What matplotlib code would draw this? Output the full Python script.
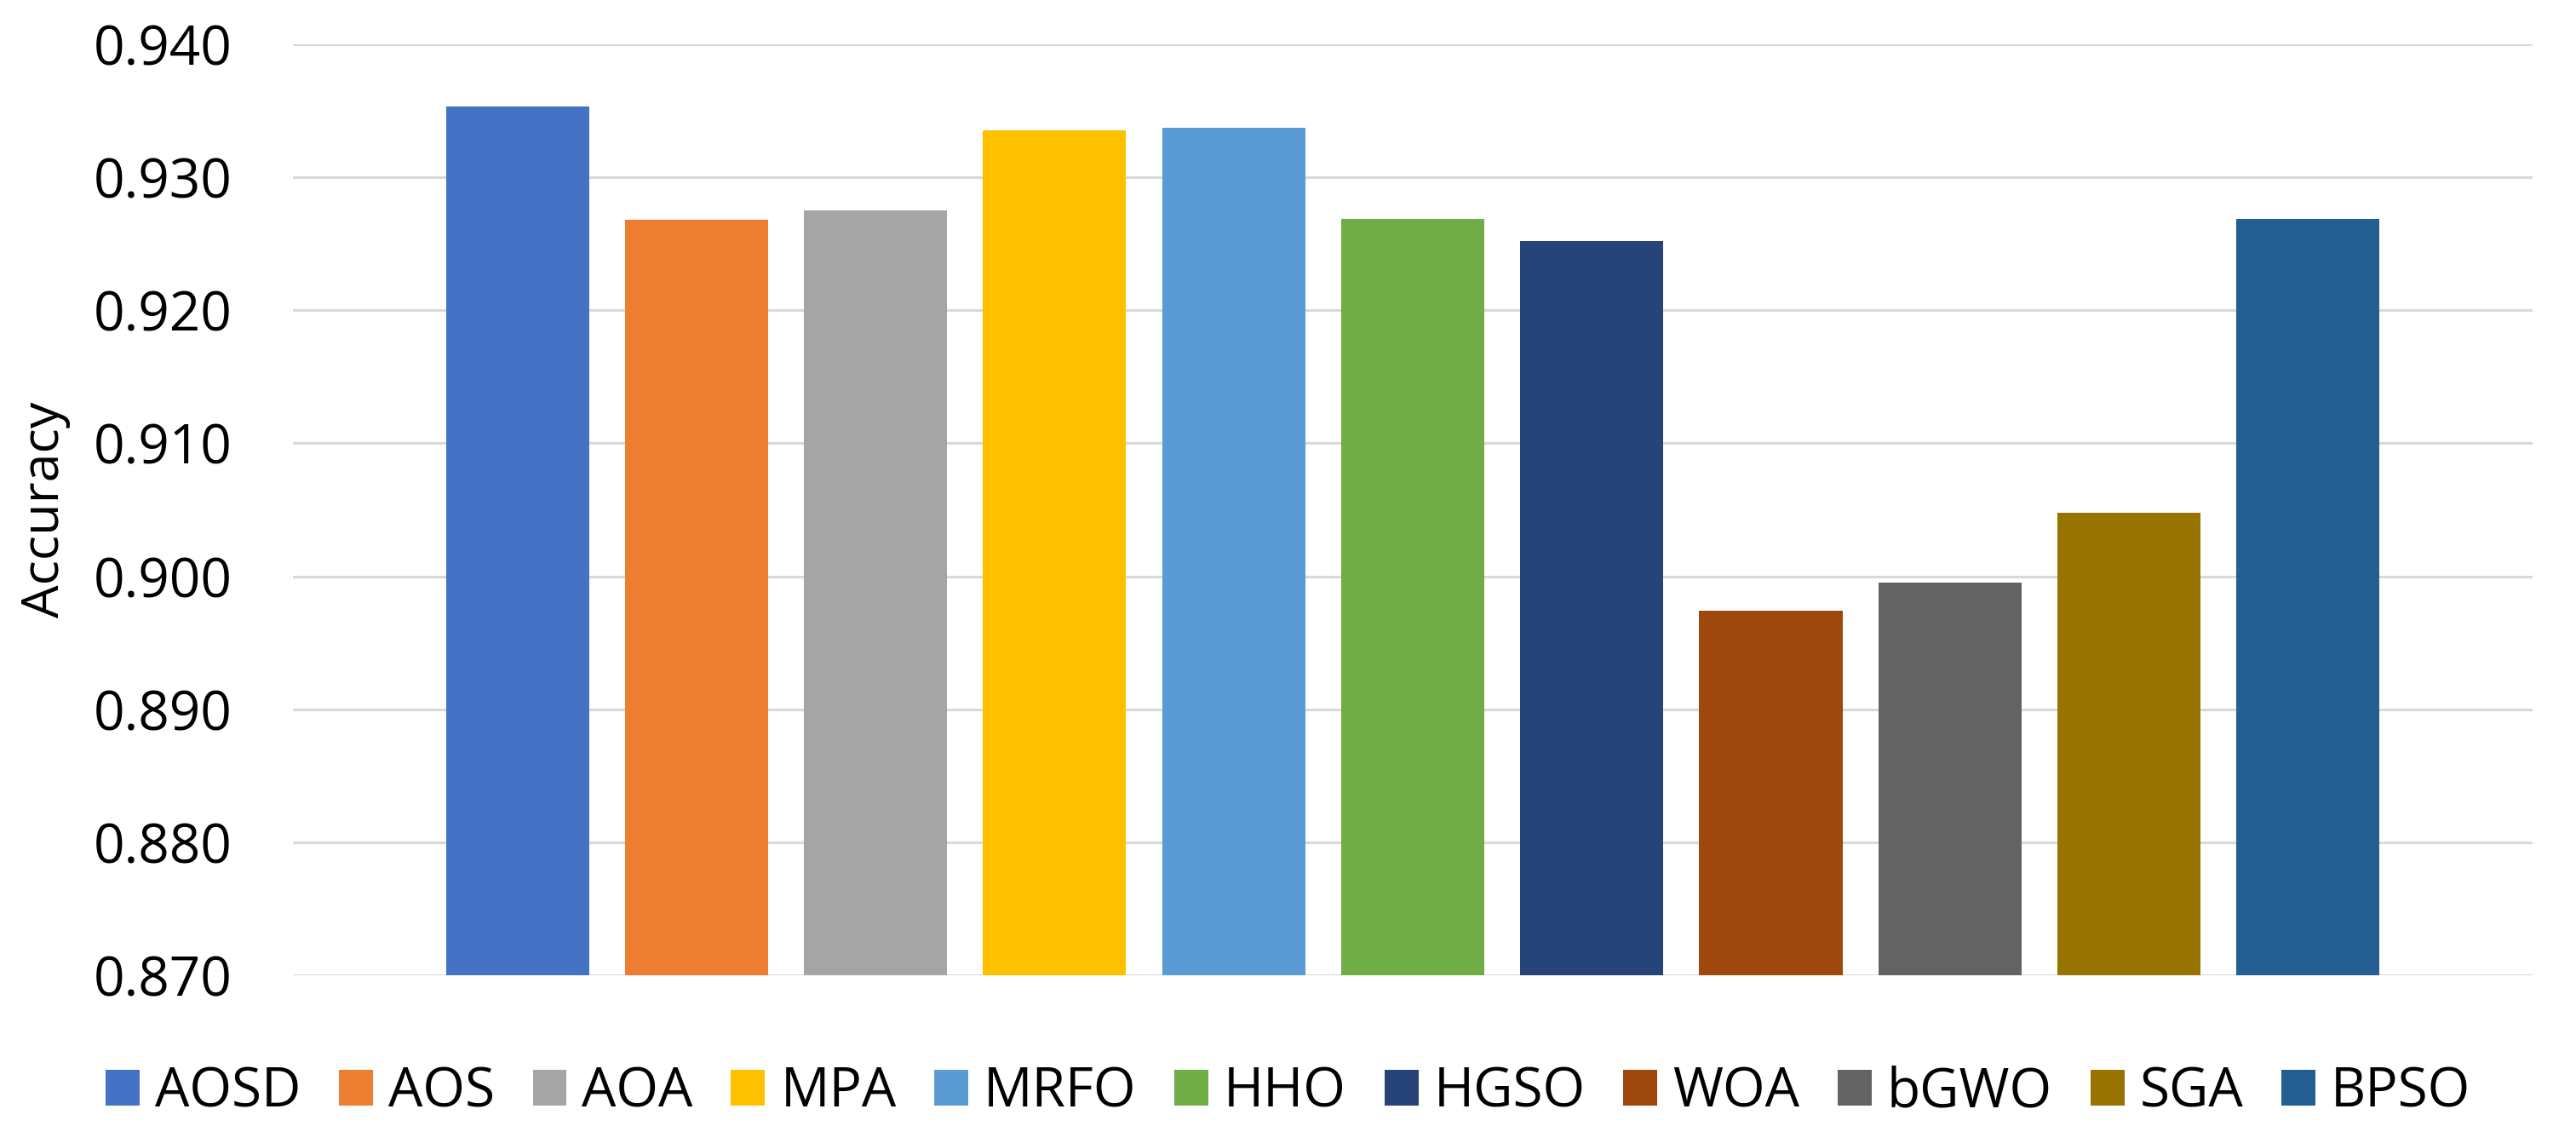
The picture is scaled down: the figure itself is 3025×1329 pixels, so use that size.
import numpy as np
import matplotlib.pyplot as plt

# Daten
algorithms = ['AOSD', 'AOS', 'AOA', 'MPA', 'MRFO', 'HHO', 'HGSO', 'WOA', 'bGWO', 'SGA', 'BPSO']
accuracy = [0.9353, 0.9268, 0.9275, 0.9335, 0.9337, 0.9269, 0.9252, 0.8974, 0.8995, 0.9048, 0.9269]
colors = ['#4472C4', '#ED7D31', '#A5A5A5', '#FFC000', '#5B9BD5', '#70AD47',
          '#264478', '#9E480E', '#636363', '#997300', '#255E91']
y_ticks = [0.870, 0.880, 0.890, 0.900, 0.910, 0.920, 0.930, 0.940]

plt.rcParams['font.family'] = ['Open Sans', 'DejaVu Sans']

fig = plt.figure(figsize=(30.25, 13.29), dpi=100)
ax = fig.add_axes([0.1137, 0.1385, 0.8694, 0.8224])

x = np.arange(len(algorithms))
bars = ax.bar(x, accuracy, width=0.8, color=colors, label=algorithms, zorder=3)
ax.set_ylim(0.870, 0.940)
ax.set_xlim(-1.254, 11.254)
ax.set_yticks(y_ticks)
ax.set_yticklabels([f'{v:.3f}' for v in y_ticks])
ax.set_xticks([])
ax.tick_params(axis='y', length=0, pad=51, labelsize=46)
ax.grid(axis='y', color='#D9D9D9', linewidth=2.2, zorder=0)
for s in ax.spines.values():
    s.set_visible(False)

# Achsenbeschriftung links
ax.set_ylabel('Accuracy', fontsize=44)
ax.yaxis.set_label_coords(-0.0992, 0.5)

fig.legend(bars, algorithms, loc='center', bbox_to_anchor=(0.5, 0.035), ncol=11,
           frameon=False, fontsize=46, handlelength=0.625, handleheight=0.64,
           handletextpad=0.28, columnspacing=0.7, borderpad=0)

plt.savefig('out.png', dpi=100)
